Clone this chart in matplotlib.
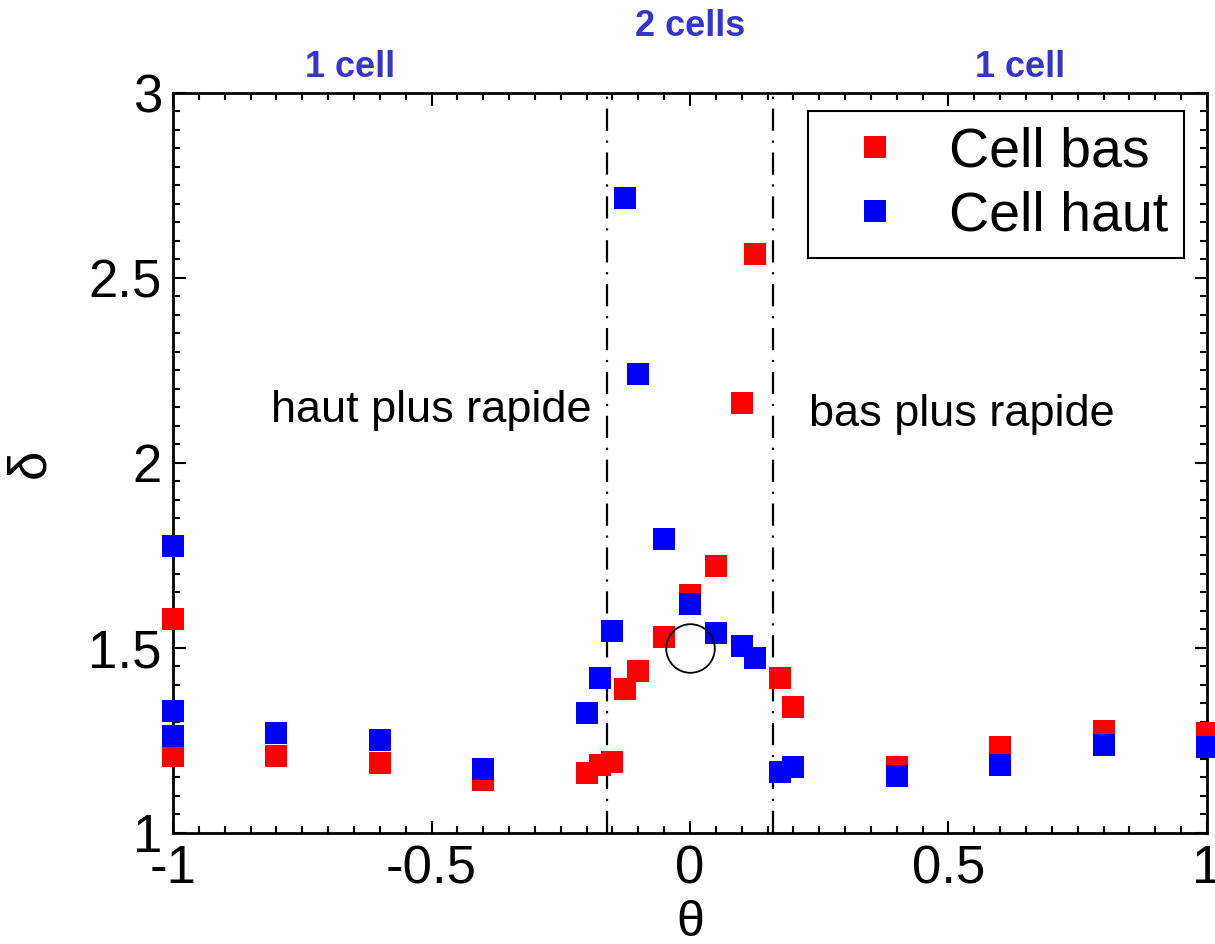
import matplotlib
matplotlib.use("Agg")
import matplotlib.pyplot as plt
from matplotlib.lines import Line2D
from matplotlib.ticker import MultipleLocator, FuncFormatter

plt.rcParams['font.family'] = ['Liberation Sans', 'DejaVu Sans']
plt.rcParams['axes.unicode_minus'] = False
plt.rcParams['lines.scale_dashes'] = False

# Cell bas (red)
theta_bas = [-1.0, -1.0, -0.8, -0.6, -0.4, -0.2, -0.175, -0.15, -0.125, -0.1,
             -0.05, 0.0, 0.05, 0.1, 0.125, 0.175, 0.2, 0.4, 0.6, 0.8, 1.0]
delta_bas = [1.578, 1.209, 1.208, 1.190, 1.143, 1.161, 1.184, 1.191, 1.389, 1.438,
             1.529, 1.643, 1.722, 2.161, 2.565, 1.420, 1.341, 1.179, 1.233, 1.276, 1.270]

# Cell haut (blue)
theta_haut = [-1.0, -1.0, -1.0, -0.8, -0.6, -0.4, -0.2, -0.175, -0.15, -0.125, -0.1,
              -0.05, 0.0, 0.05, 0.1, 0.125, 0.175, 0.2, 0.4, 0.6, 0.8, 1.0]
delta_haut = [1.776, 1.330, 1.263, 1.270, 1.251, 1.172, 1.324, 1.420, 1.547, 2.716, 2.240,
              1.794, 1.619, 1.540, 1.505, 1.474, 1.166, 1.179, 1.155, 1.184, 1.239, 1.233]

# Regime boundaries
theta_bounds = [-0.16, 0.16]
# Reference point
theta_ref, delta_ref = 0.0, 1.5

fig = plt.figure(figsize=(12.15, 9.44), dpi=100)
ax = fig.add_axes([0.1424, 0.1176, 0.851, 0.7839])

for tb in theta_bounds:
    ax.plot([tb, tb], [1, 3], color='black', lw=1.6,
            linestyle=(0, (16, 7, 1.6, 7)), zorder=1)

ax.plot(theta_bas, delta_bas, linestyle='none', marker='s', markersize=15.5,
        markeredgewidth=0, color='#ff0000', clip_on=False, zorder=3)
ax.plot(theta_haut, delta_haut, linestyle='none', marker='s', markersize=15.5,
        markeredgewidth=0, color='#0000ff', clip_on=False, zorder=4)
ax.plot([theta_ref], [delta_ref], linestyle='none', marker='o', markersize=35,
        markerfacecolor='none', markeredgecolor='black', markeredgewidth=1.3, zorder=5)

ax.set_xlim(-1, 1)
ax.set_ylim(1, 3)
ax.xaxis.set_major_locator(MultipleLocator(0.5))
ax.xaxis.set_minor_locator(MultipleLocator(0.05))
ax.yaxis.set_major_locator(MultipleLocator(0.5))
ax.yaxis.set_minor_locator(MultipleLocator(0.05))
ax.xaxis.set_major_formatter(FuncFormatter(lambda v, p: f"{v:g}"))
ax.yaxis.set_major_formatter(FuncFormatter(lambda v, p: f"{v:g}"))
ax.tick_params(which='both', direction='in', top=True, right=True, width=1.5,
               labelsize=38, pad=8)
ax.tick_params(which='major', length=9)
ax.tick_params(which='minor', length=5)
for s in ax.spines.values():
    s.set_linewidth(2)

ax.set_xlabel('θ', fontsize=36, labelpad=4)
ax.set_ylabel('δ', fontsize=38, labelpad=24)

ax.text(-0.5, 2.143, 'haut plus rapide', fontsize=32.5, ha='center', va='center')
ax.text(0.525, 2.13, 'bas plus rapide', fontsize=32.5, ha='center', va='center')

blue_lbl = '#3535cc'
ax.text(-0.658, 3.068, '1 cell', fontsize=26, fontweight='bold', color=blue_lbl,
        ha='center', va='center', clip_on=False)
ax.text(0.0, 3.181, '2 cells', fontsize=26, fontweight='bold', color=blue_lbl,
        ha='center', va='center', clip_on=False)
ax.text(0.638, 3.068, '1 cell', fontsize=26, fontweight='bold', color=blue_lbl,
        ha='center', va='center', clip_on=False)

handles = [Line2D([], [], linestyle='none', marker='s', markersize=15.5,
                  markeredgewidth=0, color='#ff0000'),
           Line2D([], [], linestyle='none', marker='s', markersize=15.5,
                  markeredgewidth=0, color='#0000ff')]
leg = ax.legend(handles, ['Cell bas', 'Cell haut'], loc='upper right',
                bbox_to_anchor=(0.978, 0.976), borderaxespad=0, fontsize=40,
                fancybox=False, framealpha=1, edgecolor='black',
                handlelength=1.87, handletextpad=0.4, borderpad=0.28,
                labelspacing=0.22)
leg.get_frame().set_linewidth(1.5)

fig.savefig('out.png', dpi=100)
